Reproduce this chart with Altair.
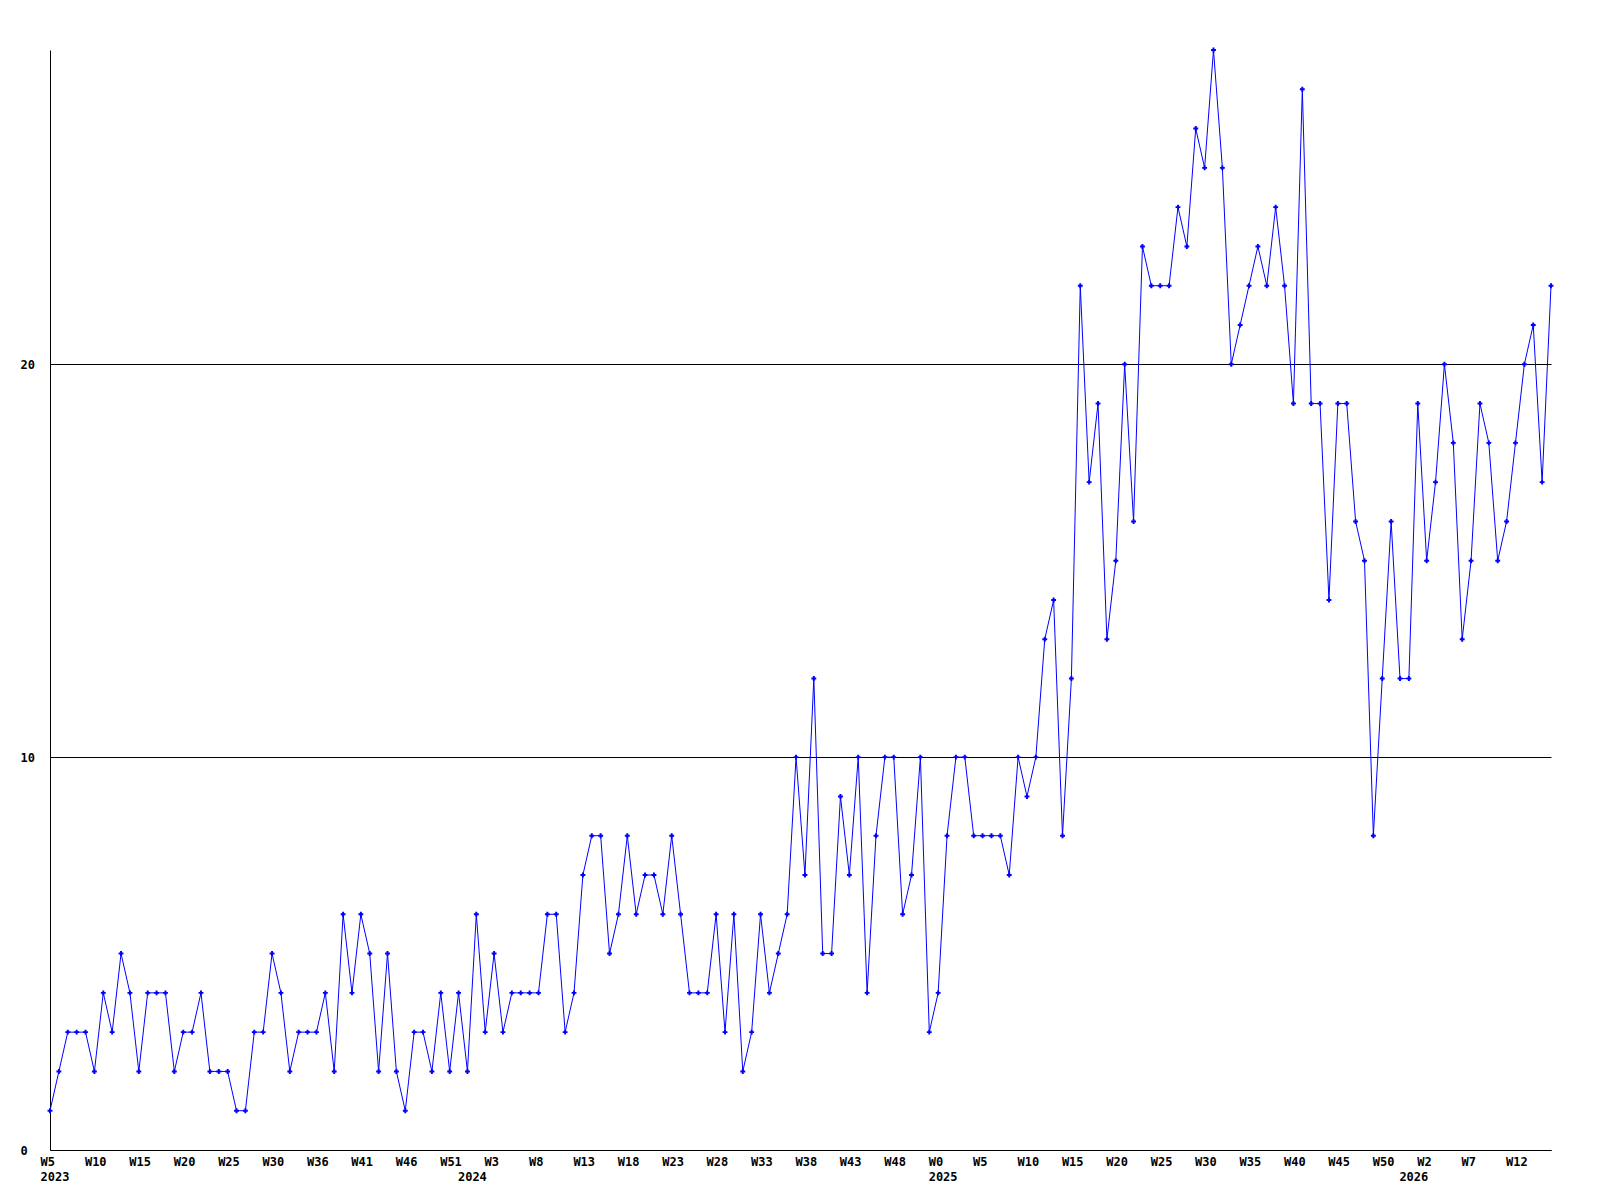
import json
import altair as alt
import pandas as pd

# weekly values, 2023 W5 .. 2026 W16 (one value per week)
values = [
    1, 2, 3, 3, 3, 2, 4, 3, 5, 4, 2, 4, 4, 4, 2, 3, 3, 4, 2, 2, 2, 1, 1, 3, 3, 5, 4, 2, 3, 3,
    3, 4, 2, 6, 4, 6, 5, 2, 5, 2, 1, 3, 3, 2, 4, 2, 4, 2, 6, 3, 5, 3, 4, 4, 4, 4, 6, 6,
    3, 4, 7, 8, 8, 5, 6, 8, 6, 7, 7, 6, 8, 6, 4, 4, 4, 6, 3, 6, 2, 3, 6, 4, 5, 6, 10, 7,
    12, 5, 5, 9, 7, 10, 4, 8, 10, 10, 6, 7, 10, 3, 4, 8, 10, 10, 8, 8, 8, 8, 7, 10, 9, 10, 13, 14, 8, 12,
    22, 17, 19, 13, 15, 20, 16, 23, 22, 22, 22, 24, 23, 26, 25, 28, 25, 20, 21, 22, 23, 22, 24, 22,
    19, 27, 19, 19, 14, 19, 19, 16, 15, 8, 12, 16, 12, 12, 19, 15, 17, 20, 18, 13, 15, 19, 18, 15, 16, 18, 20, 21, 17, 22,
]
week_index = list(range(len(values)))

# x-axis week tick positions (week index) and labels
tick_pos = [0, 5, 10, 15, 20, 25, 30, 35, 40, 45, 50, 55, 60, 65, 70, 75, 80, 85, 90, 95,
            100, 105, 110, 115, 120, 125, 130, 135, 140, 145, 150, 155, 160, 165]
tick_labels = ["W5", "W10", "W15", "W20", "W25", "W30", "W36", "W41", "W46", "W51",
               "W3", "W8", "W13", "W18", "W23", "W28", "W33", "W38", "W43", "W48",
               "W0", "W5", "W10", "W15", "W20", "W25", "W30", "W35", "W40", "W45",
               "W50", "W2", "W7", "W12"]
# year labels (second line) at the first week of each year
year_pos = [0, 47, 100, 153]
year_labels = ["2023", "2024", "2025", "2026"]

y_ticks = [0, 10, 20]

df = pd.DataFrame({"i": week_index, "v": values})

# build label lookup for the combined axis values
all_pos = sorted(set(tick_pos) | set(year_pos))
labs = []
for p in all_pos:
    w = tick_labels[tick_pos.index(p)] if p in tick_pos else ""
    y = year_labels[year_pos.index(p)] if p in year_pos else ""
    labs.append([w, y] if y else w)
label_expr = "[" + ",".join(json.dumps(l) for l in labs) + "][indexof(" + json.dumps(all_pos) + ", datum.value)]"

FONT = "DejaVu Sans Mono"

x = alt.X(
    "i:Q",
    scale=alt.Scale(domain=[0, len(values) - 1], nice=False, zero=False),
    axis=alt.Axis(
        values=all_pos,
        labelExpr=label_expr,
        title=None,
        ticks=False,
        grid=False,
        domainColor="black",
        domainWidth=1,
        labelAlign="left",
        labelBaseline="top",
        labelOffset=-10,
        labelPadding=6,
        labelLineHeight=15,
        labelFlush=False,
        labelOverlap=False,
        labelBound=False,
        labelFont=FONT,
        labelFontSize=12,
        labelFontWeight="bold",
        labelColor="black",
    ),
)
y = alt.Y(
    "v:Q",
    scale=alt.Scale(domain=[0, 28], nice=False),
    axis=alt.Axis(
        values=y_ticks,
        title=None,
        ticks=False,
        grid=True,
        gridColor="black",
        gridOpacity=1,
        gridWidth=1,
        domainColor="black",
        domainWidth=1,
        labelAlign="left",
        labelBaseline="middle",
        labelPadding=30,
        labelFont=FONT,
        labelFontSize=12,
        labelFontWeight="bold",
        labelColor="black",
    ),
)

line = alt.Chart(df).mark_line(color="#0000ff", strokeWidth=1).encode(x=x, y=y)
pts = alt.Chart(df).mark_point(shape="cross", filled=True, size=24, color="#0000ff", opacity=1).encode(
    x=alt.X("i:Q"), y=alt.Y("v:Q")
)

chart = (
    alt.layer(line, pts)
    .properties(
        width=1501,
        height=1100,
        autosize=alt.AutoSizeParams(type="none"),
        padding={"left": 42, "top": 42, "right": 30, "bottom": 40},
        background="white",
    )
    .configure_view(stroke=None)
)

chart.save("out.html", embed_options={"renderer": "svg", "actions": False})
